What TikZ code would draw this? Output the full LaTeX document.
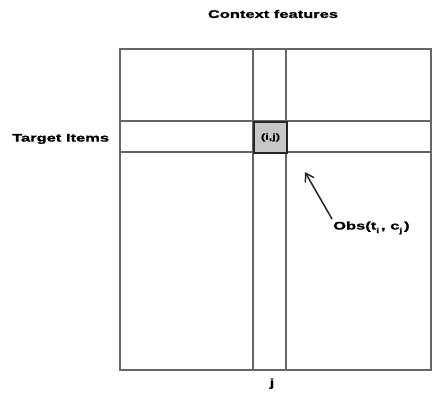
\documentclass[tikz,border=0pt]{standalone}
\usepackage{fontspec}
\setmainfont{Liberation Sans}[BoldFeatures={FakeStretch=1.5,FakeBold=1.2}]
\usetikzlibrary{arrows.meta}
\newcommand{\lowsub}[1]{\raisebox{-3.5pt}{\fontsize{7}{8}\selectfont #1}\,}
\begin{document}
\begin{tikzpicture}[x=1pt,y=-1pt,
  gridline/.style={draw=black!60,line width=1.3pt},
  cellbox/.style={draw=black!85,line width=2pt,fill=black!22},
  lbl/.style={font=\bfseries\fontsize{11}{13}\selectfont,inner sep=0pt},
  pointer/.style={-{Straight Barb[length=8pt,width=10pt]},line width=1.5pt,black!85}]
  \useasboundingbox (0,0) rectangle (442,394);
  % matrix outline and the row/column stripes
  \draw[gridline] (120,49) rectangle (431,370);
  \draw[gridline] (253,49) -- (253,370);
  \draw[gridline] (286,49) -- (286,370);
  \draw[gridline] (120,121) -- (431,121);
  \draw[gridline] (120,152) -- (431,152);
  % highlighted cell
  \node[cellbox,minimum width=33pt,minimum height=31pt,inner sep=0pt,anchor=north west] (cell) at (253,121) {};
  \node[font=\bfseries\fontsize{8.5}{10}\selectfont,inner sep=0pt] (cellname) at (cell.center) {(i,j)};
  % labels
  \node[lbl] (ctx) at (273,14) {Context features};
  \node[lbl,anchor=west] (tgt) at (12,139) {Target Items};
  \node[lbl,anchor=south] (jlab) at (272,389) {j};
  \node[lbl,anchor=west] (obs) at (333,228) {Obs(t\lowsub{i}, c\lowsub{j})};
  \coordinate (tail) at (332,219);
  \coordinate (tip) at (305,172);
  \draw[pointer] (tail) -- (tip);
\end{tikzpicture}
\end{document}
